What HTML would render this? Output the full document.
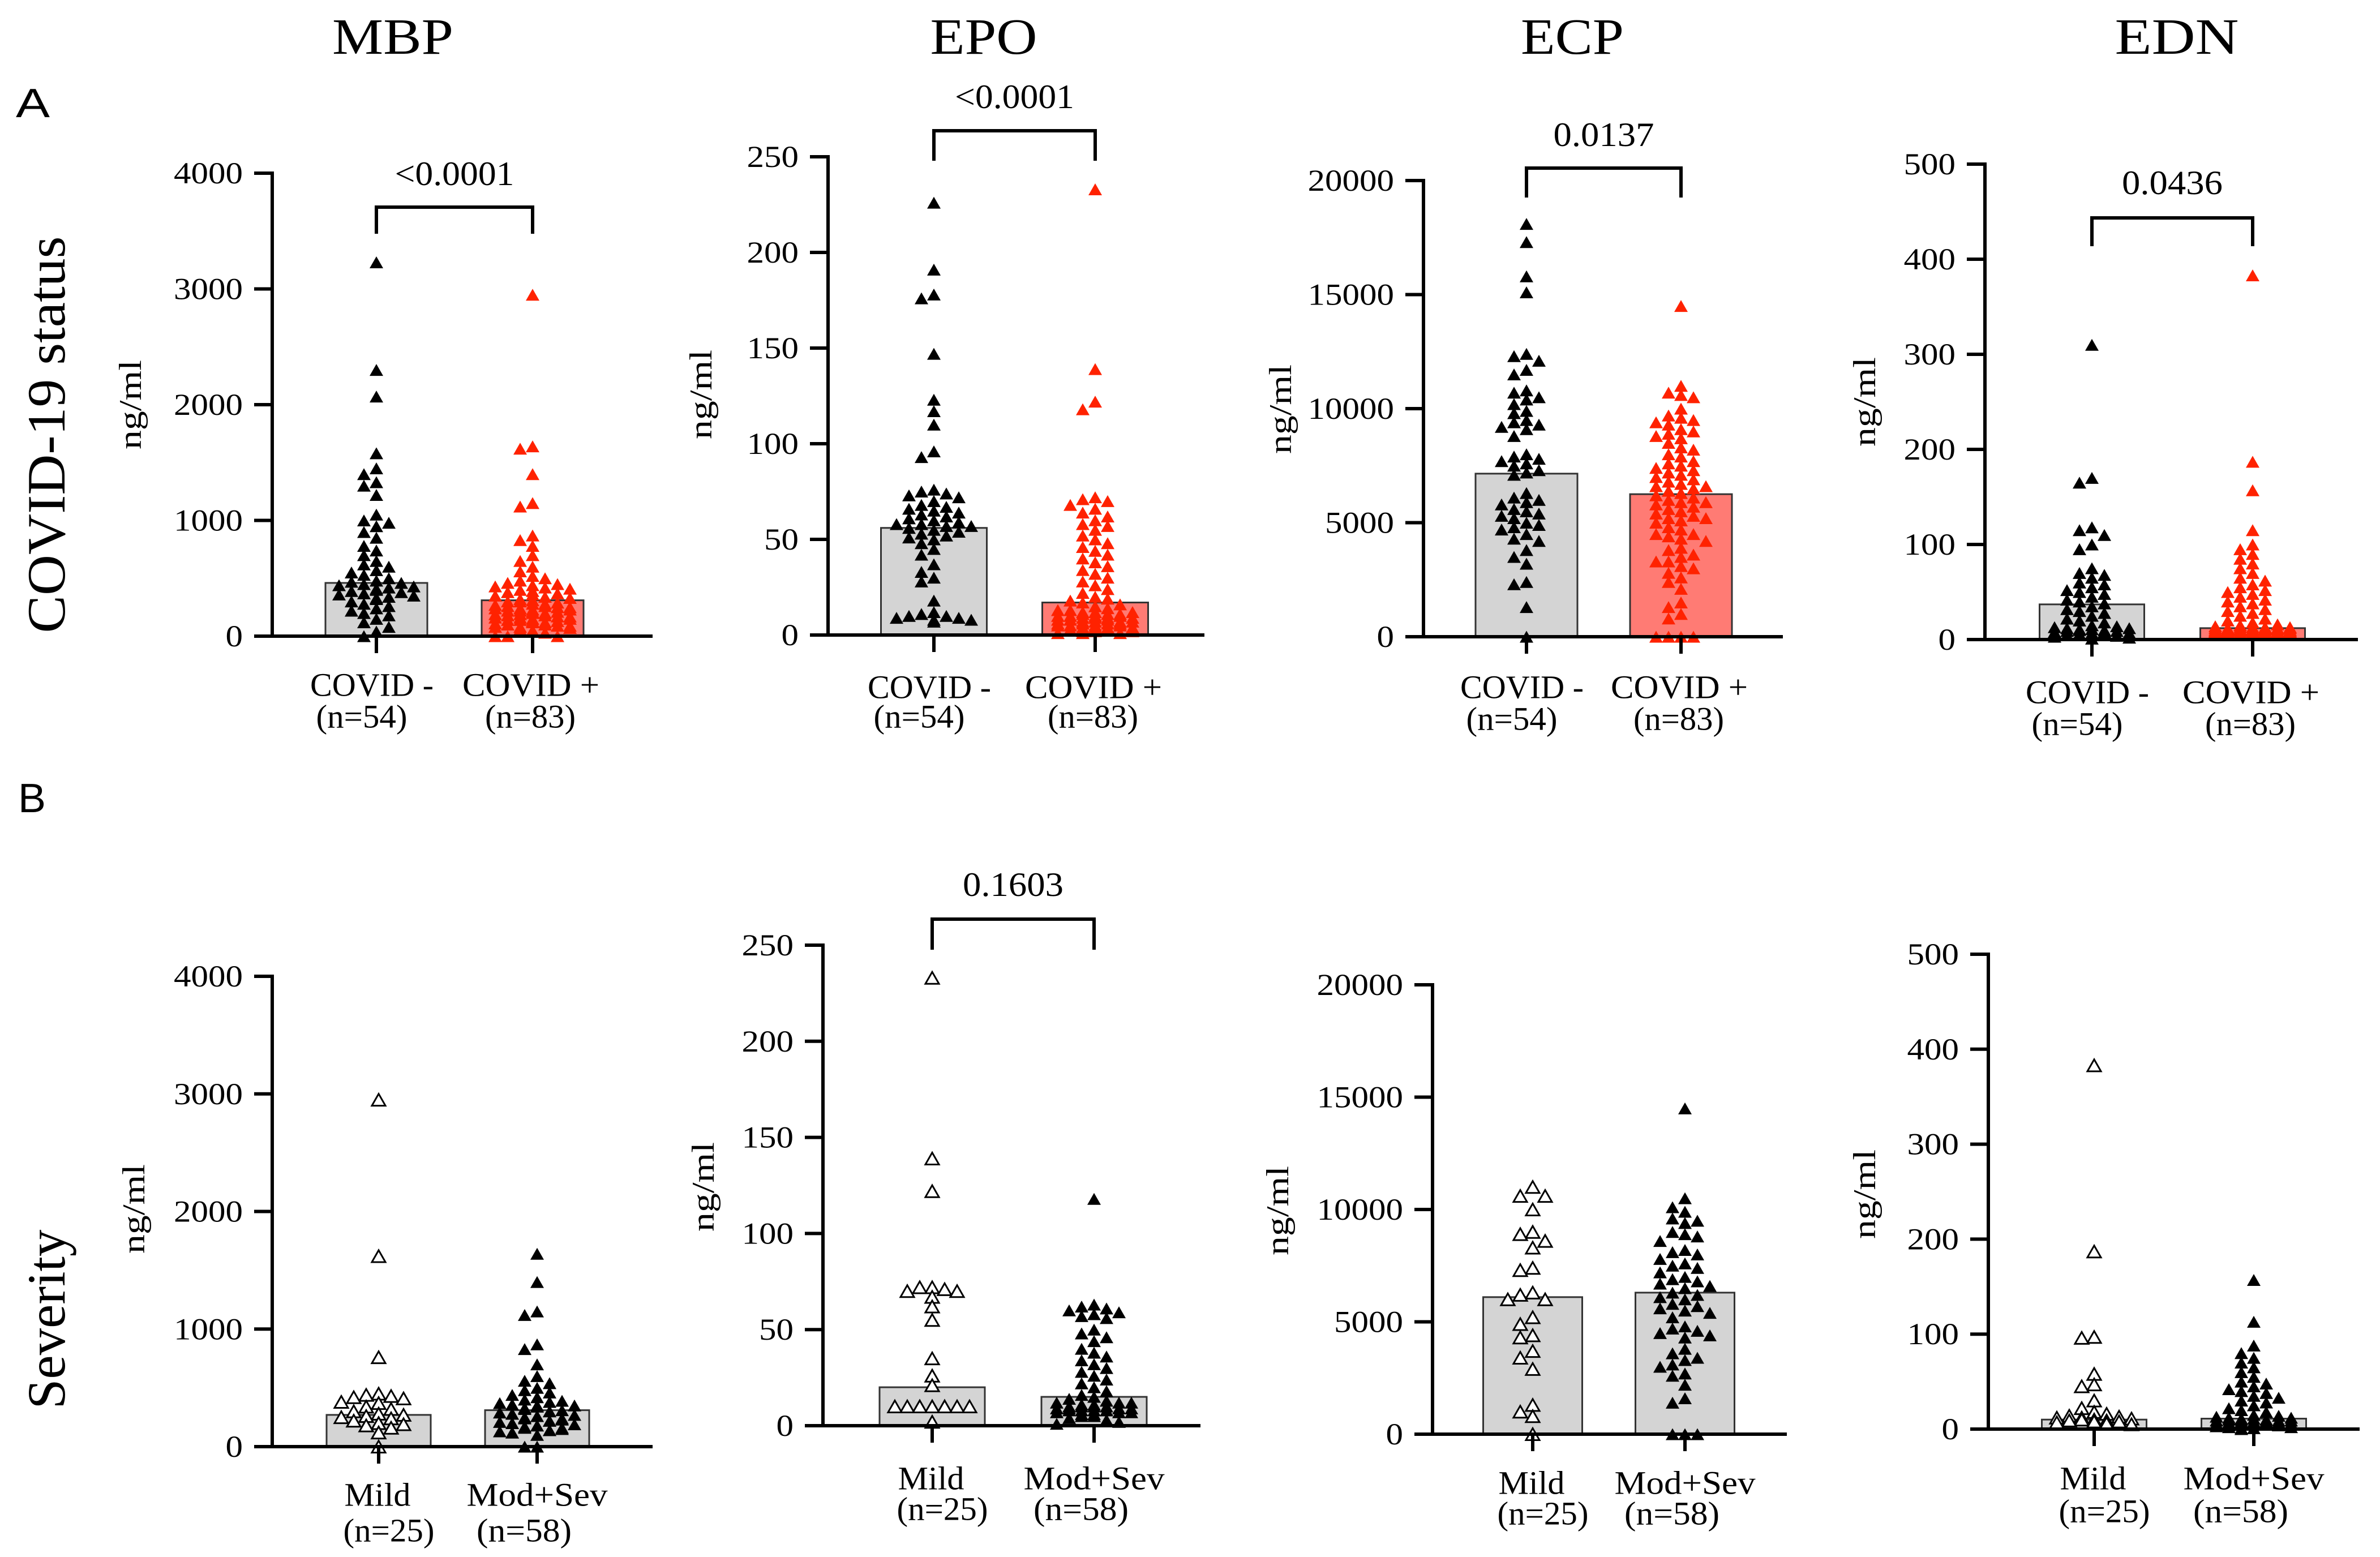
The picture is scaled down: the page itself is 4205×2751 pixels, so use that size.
<!DOCTYPE html>
<html><head><meta charset="utf-8">
<style>
html,body{margin:0;padding:0;background:#fff;}
svg{display:block;}
text{font-family:"Liberation Serif",serif;fill:#000;}
</style></head>
<body>
<svg id="fig" width="4205" height="2751" viewBox="0 0 4205 2751" xmlns="http://www.w3.org/2000/svg">
<text x="28" y="207" style="font-family:'Liberation Sans',sans-serif" font-size="72" textLength="60" lengthAdjust="spacingAndGlyphs">A</text>
<text x="32" y="1435" style="font-family:'Liberation Sans',sans-serif" font-size="72" textLength="49" lengthAdjust="spacingAndGlyphs">B</text>
<text transform="translate(114,768) rotate(-90)" text-anchor="middle" font-size="95" textLength="701" lengthAdjust="spacingAndGlyphs">COVID-19 status</text>
<text transform="translate(114,2331) rotate(-90)" text-anchor="middle" font-size="95" textLength="317" lengthAdjust="spacingAndGlyphs">Severity</text>
</svg>
<script>
// ---- data ----
const markers = ["MBP","EPO","ECP","EDN"];
const rowAGroups = ["COVID -","COVID +"];
const rowANs = ["(n=54)","(n=83)"];
const rowBGroups = ["Mild","Mod+Sev"];
const rowBNs = ["(n=25)","(n=58)"];
const axisMax = [4000,250,20000,500];
const tickStep = [1000,50,5000,100];
const pValuesA = ["<0.0001","<0.0001","0.0137","0.0436"];
const pValuesB = [null,"0.1603",null,null];

const barA_MBP = [460,310];
const barA_EPO = [56,17];
const barA_ECP = [7150,6250];
const barA_EDN = [37,12];
const barB_MBP = [270,310];
const barB_EPO = [20,15];
const barB_ECP = [6100,6300];
const barB_EDN = [10,11];

const mbpNeg = [3230,2300,2070,1580,1450,1400,1330,1300,1220,1050,1000,980,950,900,850,780,740,700,650,620,600,570,550,530,500,480,470,460,450,440,430,420,410,400,390,380,370,360,350,340,330,320,300,280,260,240,220,200,180,150,120,80,40,0];
const mbpPos = [2950,1640,1620,1400,1150,1120,870,830,780,700,650,600,560,520,500,480,460,450,440,430,420,410,400,390,380,370,360,350,340,330,320,310,300,300,290,280,280,270,260,260,250,250,240,240,230,230,220,220,210,210,200,200,190,190,180,180,170,170,160,160,150,150,140,140,130,130,120,120,110,100,100,90,90,80,80,70,60,50,40,30,0,0,0];
const epoNeg = [226,191,178,176,147,123,117,110,96,93,76,75,74,73,72,70,68,67,66,65,64,63,62,61,60,59,58,58,57,57,56,55,54,53,52,51,50,48,45,42,37,33,30,28,18,12,11,10,10,9,9,8,8,7];
const epoPos = [233,139,122,118,72,71,70,68,66,64,62,60,58,57,55,52,50,48,46,44,42,40,38,36,34,32,30,28,26,24,22,20,19,18,17,16,15,14,13,12,12,11,11,10,10,10,9,9,9,8,8,8,7,7,7,6,6,6,5,5,5,4,4,4,3,3,3,2,2,1,1,12,10,8,6,9,11,7,13,5,4,2,1];
const ecpNeg = [18100,17300,15800,15100,12400,12300,12100,11700,11500,10800,10700,10500,10400,10200,9900,9800,9500,9400,9300,9200,9100,8800,8000,7900,7800,7700,7600,7500,7300,7200,7100,6300,6100,6000,5900,5800,5600,5500,5400,5300,5200,5000,4900,4800,4700,4500,4300,4200,3800,3500,3200,2400,2300,1300,0];
const ecpPos = [14500,11000,10700,10600,10500,10000,9700,9600,9500,9400,9100,9000,8900,8800,8500,8300,8200,8000,7900,7700,7600,7500,7400,7300,7100,7000,6900,6800,6700,6600,6500,6400,6300,6200,6100,6000,5900,5800,5700,5600,5500,5400,5300,5200,5100,5000,4800,4700,4500,4400,4300,4200,3800,3600,3500,3300,3100,3000,2800,2600,2400,2100,1500,1300,1000,800,6600,5900,5200,4500,3900,3300,8700,9300,7200,0,0,0,0];
const ednNeg = [310,170,165,118,115,110,100,95,75,70,68,65,60,58,55,52,50,48,45,42,40,38,35,32,30,28,25,22,20,18,15,14,13,12,12,11,11,10,10,9,9,8,8,7,7,6,6,5,5,4,4,3,2,1];
const ednPos = [383,187,157,115,100,95,90,85,80,75,70,65,62,58,55,52,50,48,45,42,40,38,35,32,30,28,25,22,20,18,16,15,14,13,13,12,12,12,11,11,11,10,10,10,10,9,9,9,9,8,8,8,8,7,7,7,7,6,6,6,6,5,5,5,5,13,12,11,10,9,8,7,6,5,13,12,11,10,9,8,7,6,5];
const mbpMild = [2950,1620,760,450,440,430,420,410,380,370,340,320,300,280,270,260,250,240,220,200,190,180,160,120,0];
const mbpSev = [1640,1400,1150,1120,870,830,700,600,560,540,500,480,460,440,420,400,390,380,370,360,350,340,330,320,310,300,290,280,270,260,250,240,230,220,210,200,190,180,170,160,150,140,130,120,100,350,300,280,260,240,220,200,180,160,140,120,0,0];
const epoMild = [233,139,122,72,72,71,70,70,67,62,55,35,26,21,10,10,10,10,10,10,10,10,10,10,2];
const epoSev = [118,63,62,61,60,59,58,57,56,50,48,46,44,40,38,36,34,32,30,28,26,24,22,20,18,16,15,14,13,12,12,11,11,10,10,10,9,9,9,9,8,8,8,8,8,7,7,7,6,6,5,5,4,3,2,1,12,10];
const ecpMild = [11000,10600,10600,10000,8900,9000,8300,8600,7300,7400,6300,6000,6000,6200,5200,4900,4300,4400,3400,3700,2900,1300,1000,800,0];
const ecpSev = [14500,10500,10100,9900,9600,9500,9400,9000,8900,8800,8600,8200,8100,8000,7800,7600,7500,7400,7200,7000,6900,6800,6700,6600,6500,6300,6200,6100,6000,5800,5700,5600,5500,5400,5200,4800,4700,4600,4500,4400,4300,3800,3600,3400,3300,3100,3000,2700,2600,2200,1600,1400,0,0,0];
const ednMild = [383,187,97,96,58,47,45,30,22,18,16,14,13,12,12,11,10,10,9,9,8,8,7,6,5];
const ednSev = [157,113,88,80,75,70,65,60,55,50,48,45,42,40,38,35,33,30,28,25,22,20,18,15,14,13,12,12,11,11,10,10,10,9,9,9,8,8,8,7,7,7,6,6,6,5,5,5,4,4,4,3,3,2,2,1,1,0];

// ---- layout (not data) ----
const panels = [
 {row:"a",m:0,ax:481,y0:1124,yT:306,c:[665,941],bw:180,end:1153,ng:[232,715],ly:[1210,1266],br:[366,413],py:327,bars:barA_MBP,d:[mbpNeg,mbpPos]},
 {row:"a",m:1,ax:1463,y0:1122,yT:277,c:[1650,1935],bw:187,end:2128,ng:[1240,697],ly:[1214,1266],br:[231,284],py:191,bars:barA_EPO,d:[epoNeg,epoPos]},
 {row:"a",m:2,ax:2515,y0:1125,yT:319,c:[2697,2970],bw:180,end:3150,ng:[2264,723],ly:[1214,1270],br:[297,349],py:258,bars:barA_ECP,d:[ecpNeg,ecpPos]},
 {row:"a",m:3,ax:3507,y0:1130,yT:290,c:[3696,3980],bw:185,end:4166,ng:[3296,710],ly:[1223,1279],br:[385,435],py:343,bars:barA_EDN,d:[ednNeg,ednPos]},
 {row:"b",m:0,ax:481,y0:2556,yT:1725,c:[669,949],bw:184,end:1153,ng:[238,2136],ly:[2641,2704],bars:barB_MBP,d:[mbpMild,mbpSev]},
 {row:"b",m:1,ax:1454,y0:2519,yT:1670,c:[1647,1933],bw:186,end:2121,ng:[1244,2097],ly:[2612,2666],br:[1624,1678],py:1583,bars:barB_EPO,d:[epoMild,epoSev]},
 {row:"b",m:2,ax:2531,y0:2534,yT:1740,c:[2708,2977],bw:175,end:3157,ng:[2259,2139],ly:[2620,2674],bars:barB_ECP,d:[ecpMild,ecpSev]},
 {row:"b",m:3,ax:3513,y0:2525,yT:1686,c:[3700,3982],bw:185,end:4169,ng:[3296,2110],ly:[2612,2670],bars:barB_EDN,d:[ednMild,ednSev]}
];
const titleX = [694,1738,2778,3846];
const titleW = [214,189,182,219];

const NS = "http://www.w3.org/2000/svg";
const svg = document.getElementById("fig");
function mk(tag, attrs, parent){
  const e = document.createElementNS(NS, tag);
  for (const k in attrs) e.setAttribute(k, attrs[k]);
  (parent||svg).appendChild(e);
  return e;
}
function txt(s, attrs, parent){ const t = mk("text", attrs, parent); t.textContent = s; return t; }

markers.forEach((m,i)=>{
  const t = txt(m,{x:titleX[i],y:95,"text-anchor":"middle","font-size":90,textLength:titleW[i],lengthAdjust:"spacingAndGlyphs"});
  
  
});

function triPath(x,y){ const w=12, h=21; return `M${x-w},${y+h/2} L${x+w},${y+h/2} L${x},${y-h/2} Z`; }

panels.forEach(p=>{
  const g = mk("g",{});
  
  
  const max = axisMax[p.m];
  const yScale = v => p.y0 - (v/max)*(p.y0-p.yT);
  p.bars.forEach((v,i)=>{
    const fill = (p.row==="a" && i===1) ? "#ff7b74" : "#d4d4d4";
    const r = mk("rect",{x:p.c[i]-p.bw/2,y:yScale(v),width:p.bw,height:p.y0-yScale(v),fill:fill,stroke:"#333","stroke-width":3},g);
    
    
  });
  p.d.forEach((vals,i)=>{
    const sorted = vals.slice().sort((a,b)=>b-a);
    const placed = [];
    const half = p.bw/2 - 8;
    const offs = [0];
    for (let k=1; k*11<=half; k++){ offs.push(-k*11); offs.push(k*11); }
    sorted.forEach(v=>{
      const y = yScale(v);
      let best = p.c[i], bestC = Infinity;
      for (const off of offs){
        const cx = p.c[i]+off;
        const cnt = placed.filter(q=>Math.abs(q[0]-cx)<20 && Math.abs(q[1]-y)<16).length;
        if (cnt < bestC){ bestC = cnt; best = cx; if (cnt===0) break; }
      }
      placed.push([best,y]);
      let fill="#000", stroke="none";
      if (p.row==="a" && i===1) fill="#ff2200";
      if (p.row==="b" && i===0){ fill="#fff"; stroke="#000"; }
      const t = mk("path",{d:triPath(best,y),fill:fill,stroke:stroke,"stroke-width":3},g);
      
      
    });
  });
  const ya = mk("line",{x1:p.ax,y1:p.yT-3,x2:p.ax,y2:p.y0+3,stroke:"#000","stroke-width":6},g);
  
  
  const xa = mk("line",{x1:p.ax-32,y1:p.y0,x2:p.end,y2:p.y0,stroke:"#000","stroke-width":6},g);
  
  
  for (let v=0; v<=max; v+=tickStep[p.m]){
    const y = yScale(v);
    if (v>0){ const tk = mk("line",{x1:p.ax-32,y1:y,x2:p.ax,y2:y,stroke:"#000","stroke-width":6},g);
        }
    const s = String(v);
    const tl = txt(s,{x:p.ax-52,y:y,"text-anchor":"end","dominant-baseline":"central","font-size":54,textLength:s.length*30.5,lengthAdjust:"spacingAndGlyphs"},g);
    
    
  }
  const names = p.row==="a" ? rowAGroups : rowBGroups;
  const ns = p.row==="a" ? rowANs : rowBNs;
  const nameW = p.row==="a" ? [218,242] : [117,249];
  const nameDx = p.row==="a" ? [-8,-3] : [-2,0];
  const nDx = p.row==="a" ? [-26,-4] : [18,-23];
  const nW = p.row==="a" ? [161,160] : [161,168];
  for (let i=0;i<2;i++){
    const xt = mk("line",{x1:p.c[i],y1:p.y0,x2:p.c[i],y2:p.y0+30,stroke:"#000","stroke-width":6},g);
    
    
    const l1 = txt(names[i],{x:p.c[i]+nameDx[i],y:p.ly[0],"text-anchor":"middle","dominant-baseline":"central","font-size":58,textLength:nameW[i],lengthAdjust:"spacingAndGlyphs"},g);
    
    
    const l2 = txt(ns[i],{x:p.c[i]+nDx[i],y:p.ly[1],"text-anchor":"middle","dominant-baseline":"central","font-size":58,textLength:nW[i],lengthAdjust:"spacingAndGlyphs"},g);
    
    
  }
  const yt = txt("ng/ml",{transform:`translate(${p.ng[0]+17},${p.ng[1]}) rotate(-90)`,"text-anchor":"middle","font-size":56,textLength:158,lengthAdjust:"spacingAndGlyphs"},g);
  
  
  const pv = p.row==="a" ? pValuesA[p.m] : pValuesB[p.m];
  if (pv){
    const b = mk("path",{d:`M${p.c[0]},${p.br[1]} L${p.c[0]},${p.br[0]} L${p.c[1]},${p.br[0]} L${p.c[1]},${p.br[1]}`,fill:"none",stroke:"#000","stroke-width":6},g);
    
    
    const pw = pv.length===7 ? 211 : 178;
    const pt = txt(pv,{x:(p.c[0]+p.c[1])/2,y:p.py,"text-anchor":"middle","font-size":60,textLength:pw,lengthAdjust:"spacingAndGlyphs"},g);
    
    
  }
});
</script>
</body></html>
